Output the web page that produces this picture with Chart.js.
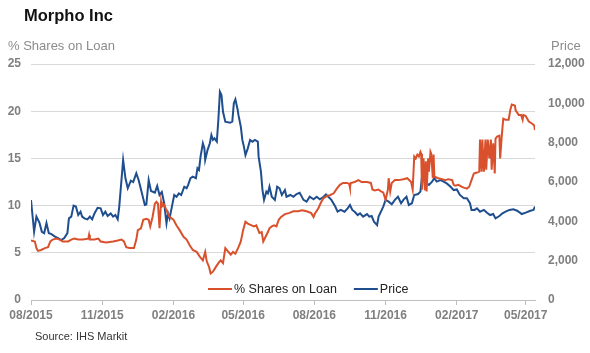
<!DOCTYPE html>
<html>
<head>
<meta charset="utf-8">
<script src="https://cdn.jsdelivr.net/npm/chart.js@4.4.1/dist/chart.umd.min.js"></script>
<style>
  body { margin: 0; background: #fff; font-family: "Liberation Sans", Arial, sans-serif; }
  #wrap { position: relative; width: 590px; height: 353px; }
  #chart { position: absolute; left: 0; top: 0; }
  .txt { position: absolute; white-space: nowrap; line-height: 1; }
  #title { left: 24px; top: 6.5px; font-size: 16.5px; font-weight: bold; color: #111; }
  #leftTitle { left: 8px; top: 39px; font-size: 13px; color: #8c8c8c; }
  #rightTitle { left: 551px; top: 39px; font-size: 13px; color: #8c8c8c; }
  #source { left: 35px; top: 331px; font-size: 11px; color: #333; }
</style>
</head>
<body>
<div id="wrap">
  <canvas id="chart" width="590" height="353"></canvas>
  <div class="txt" id="title">Morpho Inc</div>
  <div class="txt" id="leftTitle">% Shares on Loan</div>
  <div class="txt" id="rightTitle">Price</div>
  <div class="txt" id="source">Source: IHS Markit</div>
</div>
<script>
// x values are days since 2015-08-01
const tickDays = [0, 92, 184, 274, 366, 458, 550, 639];
const tickLabels = ['08/2015', '11/2015', '02/2016', '05/2016', '08/2016', '11/2016', '02/2017', '05/2017'];

const loanDay = [
  0, 5, 7, 9, 13, 18, 22, 25, 28, 33, 37, 41, 48, 52, 56, 61, 67, 74, 75, 76,
  82, 87, 90, 97, 106, 112, 117, 120, 123, 127, 133, 136, 138, 142, 145, 149, 152, 154, 157, 160,
  162, 164, 166, 168, 169, 172, 175, 179, 184, 188, 192, 197, 201, 205, 209, 214, 218, 222, 225, 227,
  230, 232, 235, 238, 242, 245, 248, 251, 255, 258, 261, 264, 268, 271, 274, 277, 280, 285, 288, 291,
  295, 298, 300, 303, 306, 308, 311, 314, 317, 320, 323, 328, 333, 339, 345, 350, 356, 362, 365, 367,
  371, 375, 378, 382, 386, 391, 395, 399, 403, 408, 411, 412, 413, 418, 423, 427, 434, 439, 441, 444,
  449, 452, 455, 458, 461, 462, 464, 466, 470, 475, 481, 486, 491, 493, 495, 497, 499, 501, 503, 504,
  505, 506, 507, 509, 510, 511, 513, 514, 516, 517, 519, 520, 521, 523, 526, 531, 535, 539, 544, 546,
  548, 552, 556, 559, 563, 566, 569, 572, 576, 579, 580, 582, 583, 585, 587, 588, 590, 592, 594, 595,
  597, 599, 600, 602, 605, 606, 608, 610, 613, 617, 619, 621, 625, 626, 630, 633, 635, 636, 639, 643,
  647, 650, 651
];
const loanPct = [
  6.3, 6.2, 5.5, 5.2, 5.3, 5.5, 5.6, 6.2, 6.4, 6.5, 6.4, 6.2, 6.2, 6.4, 6.5, 6.4, 6.4, 6.5, 6.9, 6.4,
  6.4, 6.5, 6.2, 6.1, 6.2, 6.3, 6.4, 6.2, 5.6, 5.5, 5.5, 6.4, 7.4, 7.6, 8.5, 8.6, 8.5, 7.8, 8.8, 10.2,
  10.4, 10.2, 7.6, 10.4, 9.9, 10.1, 9.5, 8.8, 8.5, 7.9, 7.4, 6.7, 6.4, 5.8, 5.3, 5.1, 4.6, 4.2, 5.1, 4.1,
  3.5, 2.8, 3.0, 3.4, 3.9, 4.2, 3.9, 5.5, 5.1, 4.8, 5.1, 4.9, 5.6, 6.2, 7.4, 8.3, 8.1, 7.9, 7.8, 7.9,
  7.1, 7.2, 6.2, 6.7, 7.2, 7.6, 7.8, 7.9, 7.8, 8.5, 8.8, 9.1, 9.2, 9.4, 9.4, 9.5, 9.4, 9.2, 8.8, 9.2,
  9.7, 10.4, 10.8, 11.0, 11.1, 11.3, 11.8, 12.2, 12.4, 12.4, 12.3, 11.9, 12.4, 12.5, 12.7, 12.5, 12.5, 12.4, 11.7, 11.6,
  11.7, 11.5, 11.4, 10.6, 11.7, 12.9, 11.5, 12.4, 12.7, 12.7, 12.8, 12.9, 12.5, 11.7, 15.2, 15.0, 15.4, 15.2, 15.7, 15.5,
  11.7, 12.7, 15.0, 11.7, 14.7, 11.5, 15.0, 13.6, 15.7, 15.5, 12.9, 15.4, 13.1, 13.0, 12.9, 12.8, 12.7, 12.8, 12.7, 12.2,
  12.1, 12.2, 12.0, 11.9, 11.8, 12.0, 12.7, 13.4, 13.5, 13.6, 17.0, 13.6, 17.0, 13.6, 17.0, 13.8, 17.0, 15.0, 17.0, 13.8,
  16.6, 13.4, 17.1, 17.3, 17.4, 15.0, 17.3, 19.2, 19.1, 19.1, 20.1, 20.7, 20.6, 20.1, 19.6, 19.6, 19.1, 19.6, 19.5, 18.9,
  18.7, 18.5, 18.0
];

const priceDay = [
  0, 4, 7, 11, 14, 17, 20, 23, 26, 31, 35, 39, 43, 47, 49, 52, 55, 58, 61, 64,
  66, 69, 73, 76, 79, 82, 86, 90, 93, 96, 99, 103, 106, 109, 112, 114, 119, 122, 125, 129,
  132, 136, 139, 142, 147, 149, 152, 155, 160, 163, 166, 169, 172, 175, 177, 179, 182, 185, 188, 191,
  194, 198, 201, 203, 206, 209, 213, 215, 217, 219, 222, 224, 225, 228, 231, 233, 235, 237, 240, 242,
  244, 246, 248, 251, 257, 260, 262, 264, 267, 268, 271, 273, 275, 277, 280, 283, 286, 289, 293, 294,
  297, 299, 301, 304, 306, 308, 311, 315, 318, 321, 324, 328, 330, 335, 339, 343, 347, 352, 356, 360,
  365, 369, 373, 378, 381, 384, 388, 393, 396, 400, 405, 409, 412, 415, 418, 422, 425, 429, 434, 437,
  440, 443, 447, 449, 452, 455, 458, 462, 466, 470, 474, 478, 481, 485, 488, 492, 495, 500, 503, 505,
  508, 511, 514, 518, 521, 524, 529, 533, 537, 542, 546, 550, 554, 559, 563, 567, 569, 573, 576, 580,
  585, 589, 593, 597, 600, 605, 609, 613, 618, 623, 628, 634, 639, 645, 649, 651
];
const priceJpy = [
  5080, 3470, 4240, 3920, 3470, 3400, 3920, 3400, 3360, 3220, 3150, 3050, 3150, 3400, 4150, 4240, 4800, 4750, 4320, 4490,
  4240, 4150, 4100, 4240, 4100, 4400, 4690, 4660, 4320, 4490, 4270, 4400, 4240, 4320, 4100, 4750, 7120, 6190, 5680, 6070,
  6000, 6440, 6100, 5630, 4830, 4860, 6100, 5540, 5460, 5800, 5340, 5490, 4920, 3900, 4410, 4150, 4750, 5340, 5250, 5420,
  5340, 5760, 5680, 5850, 6190, 6270, 6190, 6700, 6610, 7290, 7970, 7710, 7120, 7620, 7970, 8390, 8140, 8220, 8050, 9150,
  10590, 10420, 9570, 9070, 9010, 9070, 10000, 10200, 9660, 9400, 8810, 8140, 7800, 7370, 7710, 8140, 8050, 8140, 8050, 7290,
  6530, 5590, 5090, 5510, 5420, 5760, 5250, 5090, 5760, 5680, 5340, 5590, 5250, 5340, 5250, 5390, 5450, 5090, 5000, 5250,
  5120, 5250, 5120, 5250, 5370, 5250, 5090, 4750, 4490, 4580, 4490, 4660, 4830, 4580, 4490, 4320, 4410, 4240, 4370, 4240,
  4270, 3980, 3810, 4240, 4490, 4750, 5090, 5000, 4870, 5090, 5250, 4920, 5090, 5250, 4830, 4920, 5340, 5390, 5510, 6270,
  6190, 5930, 5850, 6020, 6190, 6020, 6100, 6020, 5930, 5760, 5590, 5620, 5340, 5170, 5170, 4920, 4580, 4580, 4660, 4490,
  4580, 4440, 4320, 4370, 4150, 4270, 4410, 4490, 4580, 4610, 4540, 4370, 4440, 4540, 4580, 4750
];

const toPoints = (xs, ys) => xs.map((x, i) => ({ x: x, y: ys[i] }));

const gray = '#7f7f7f';
const tickFont = { family: 'Liberation Sans, Arial, sans-serif', size: 12, weight: 'bold' };

// legend drawn inside the plot, near the bottom
const insideLegend = {
  id: 'insideLegend',
  afterDraw(chart) {
    const ctx = chart.ctx;
    let x = 208;
    const y = 289;
    ctx.save();
    ctx.font = '12.5px "Liberation Sans", Arial, sans-serif';
    ctx.textBaseline = 'middle';
    chart.data.datasets.forEach((ds) => {
      ctx.strokeStyle = ds.borderColor;
      ctx.lineWidth = 2;
      ctx.beginPath();
      ctx.moveTo(x, y);
      ctx.lineTo(x + 24, y);
      ctx.stroke();
      ctx.fillStyle = '#222';
      ctx.fillText(ds.label, x + 26, y + 1);
      x += 26 + ctx.measureText(ds.label).width + 17;
    });
    ctx.restore();
  }
};

new Chart(document.getElementById('chart'), {
  type: 'line',
  data: {
    datasets: [{
      label: '% Shares on Loan',
      data: toPoints(loanDay, loanPct),
      yAxisID: 'yLeft',
      borderColor: '#d9512c',
      borderWidth: 2,
      pointRadius: 0,
      tension: 0,
      fill: false,
    }, {
      label: 'Price',
      data: toPoints(priceDay, priceJpy),
      yAxisID: 'yRight',
      borderColor: '#1f4e8f',
      borderWidth: 2,
      pointRadius: 0,
      tension: 0,
      fill: false,
    }]
  },
  options: {
    responsive: false,
    animation: false,
    devicePixelRatio: 1,
    layout: { padding: { top: 64, left: 0, right: 0, bottom: 0 } },
    plugins: {
      legend: { display: false },
      tooltip: { enabled: false },
    },
    scales: {
      x: {
        type: 'linear',
        min: 0,
        max: 651,
        afterFit: (scale) => { scale.height = 53; },
        afterBuildTicks: (scale) => { scale.ticks = tickDays.map(v => ({ value: v })); },
        grid: { drawOnChartArea: false, drawTicks: true, tickLength: 5, color: '#bfbfbf' },
        border: { color: '#bfbfbf' },
        ticks: {
          autoSkip: false,
          maxRotation: 0,
          padding: 3,
          color: gray,
          font: tickFont,
          callback: (v) => tickLabels[tickDays.indexOf(v)],
        },
      },
      yLeft: {
        position: 'left',
        min: 0,
        max: 25,
        afterFit: (scale) => { scale.width = 31; },
        grid: { color: '#d9d9d9', drawTicks: false },
        border: { display: false },
        ticks: { stepSize: 5, padding: 10, color: gray, font: tickFont },
      },
      yRight: {
        position: 'right',
        min: 0,
        max: 12000,
        afterFit: (scale) => { scale.width = 55; },
        grid: { display: false, drawTicks: false },
        border: { display: false },
        ticks: {
          stepSize: 2000,
          padding: 13,
          color: gray,
          font: tickFont,
          callback: (v) => v.toLocaleString('en-US'),
        },
      },
    },
  },
  plugins: [insideLegend],
});
</script>
</body>
</html>
